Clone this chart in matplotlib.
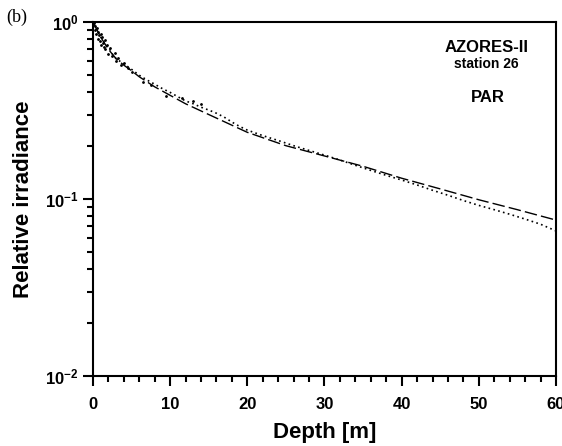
import matplotlib
matplotlib.use("Agg")
import matplotlib.pyplot as plt
from matplotlib.ticker import FixedLocator, FixedFormatter, MultipleLocator

plt.rcParams['font.family'] = ['Liberation Sans', 'DejaVu Sans']
plt.rcParams['font.weight'] = 'bold'
plt.rcParams['mathtext.fontset'] = 'custom'
plt.rcParams['mathtext.rm'] = 'Liberation Sans:bold'
plt.rcParams['mathtext.bf'] = 'Liberation Sans:bold'

# model profile (dashed)
model_depth = [0, 1, 2, 3, 4, 5, 6, 8, 10, 12, 15, 20, 25, 30, 35, 40, 45, 50, 55, 60]
model_irr = [1.0, 0.82, 0.70, 0.62, 0.57, 0.53, 0.49, 0.43, 0.385, 0.345, 0.30,
             0.238, 0.20, 0.175, 0.153, 0.131, 0.114, 0.099, 0.087, 0.076]

# measured profile (dotted)
meas_depth = [0, 0.3, 0.6, 1, 1.5, 2, 2.5, 3, 4, 5, 6, 7, 8, 9, 10, 11, 12, 13, 14,
              15, 16, 17, 18, 19, 20, 22, 24, 26, 28, 30, 32, 34, 36, 38, 40, 42,
              44, 46, 48, 50, 52, 54, 56, 58, 60]
meas_irr = [0.97, 0.92, 0.88, 0.83, 0.76, 0.72, 0.66, 0.62, 0.58, 0.54, 0.50, 0.47,
            0.445, 0.42, 0.40, 0.378, 0.358, 0.345, 0.33, 0.318, 0.305, 0.29, 0.272,
            0.257, 0.245, 0.228, 0.214, 0.20, 0.188, 0.177, 0.166, 0.155, 0.145,
            0.136, 0.128, 0.12, 0.112, 0.105, 0.098, 0.092, 0.087, 0.082, 0.077,
            0.072, 0.066]

# near-surface scatter of measurements
surf_depth = [0.1, 0.2, 0.3, 0.4, 0.5, 0.6, 0.7, 0.8, 0.9, 1.0, 1.1, 1.2, 1.3, 1.4,
              1.5, 1.6, 1.8, 2.0, 2.2, 2.5, 2.8, 3.0, 3.3, 3.6, 4.0, 4.5, 5.0, 6.5,
              7.5, 9.5, 11.5, 13.0, 14.0]
surf_irr = [0.99, 0.90, 0.95, 0.86, 0.92, 0.80, 0.88, 0.84, 0.78, 0.86, 0.74, 0.82,
            0.76, 0.72, 0.79, 0.70, 0.74, 0.66, 0.71, 0.64, 0.67, 0.60, 0.63, 0.57,
            0.59, 0.55, 0.52, 0.46, 0.44, 0.38, 0.37, 0.36, 0.345]

fig = plt.figure(figsize=(5.62, 4.46), dpi=100)
ax = fig.add_axes([0.1655, 0.157, 0.8238, 0.7937])

ax.plot(model_depth, model_irr, color='black', lw=1.0, ls=(0, (9, 3)))
ax.plot(meas_depth, meas_irr, color='black', lw=1.2, ls=(0, (1, 2)))
ax.plot(surf_depth, surf_irr, ls='none', marker='.', ms=2, color='black')

ax.set_yscale('log')
ax.set_xlim(0, 60)
ax.set_ylim(0.01, 1.0)

ax.xaxis.set_major_locator(MultipleLocator(10))
ax.xaxis.set_minor_locator(MultipleLocator(2))
ax.yaxis.set_major_locator(FixedLocator([0.01, 0.1, 1.0]))
ax.yaxis.set_major_formatter(FixedFormatter([r'$\mathbf{10^{-2}}$', r'$\mathbf{10^{-1}}$', r'$\mathbf{10^{0}}$']))

for s in ax.spines.values():
    s.set_linewidth(1.5)
ax.tick_params(which='major', direction='out', length=7, width=1.5, labelsize=12)
ax.tick_params(axis='x', which='major', pad=8)
ax.tick_params(which='minor', direction='out', length=4, width=1.5)
for lab in ax.get_xticklabels():
    lab.set_fontweight('bold')

ax.set_xlabel('Depth [m]', fontsize=16, fontweight='bold', labelpad=7)
ax.set_ylabel('Relative irradiance', fontsize=16, fontweight='bold', labelpad=8)

ax.text(0.851, 0.929, 'AZORES-II', transform=ax.transAxes, ha='center', va='center',
        fontsize=12, fontweight='bold')
ax.text(0.849, 0.881, 'station 26', transform=ax.transAxes, ha='center', va='center',
        fontsize=10, fontweight='bold')
ax.text(0.853, 0.788, 'PAR', transform=ax.transAxes, ha='center', va='center',
        fontsize=12, fontweight='bold')

fig.text(6 / 562, 1 - 17 / 446, '(b)', family='Liberation Serif', fontweight='normal',
         fontsize=13, va='center', ha='left')

fig.savefig('out.png', dpi=100)
